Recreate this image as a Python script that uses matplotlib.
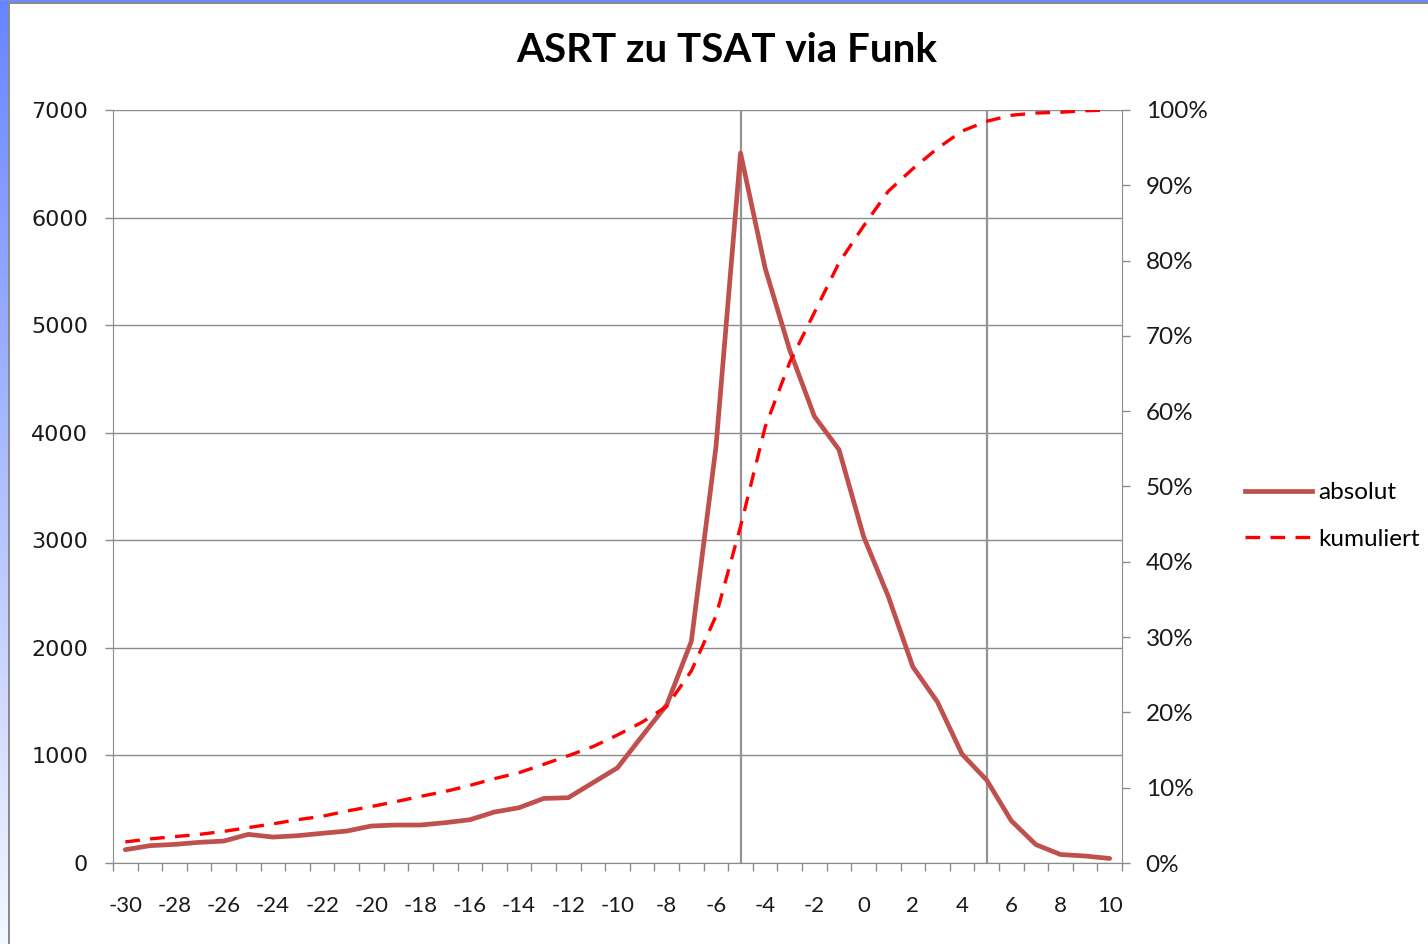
import numpy as np
import matplotlib
matplotlib.use("Agg")
import matplotlib.pyplot as plt
from matplotlib.lines import Line2D
from matplotlib.patches import Rectangle
from matplotlib.ticker import FixedLocator, FuncFormatter, NullFormatter

# ---- data ----
categories = list(range(-30, 11))
absolut = [124, 161, 173, 192, 204, 266, 241, 254, 276, 297,
           344, 353, 353, 375, 402, 474, 514, 600, 607, 746,
           885, 1180, 1470, 2060, 3866, 6600, 5529, 4767, 4152, 3843,
           3035, 2480, 1824, 1497, 1012, 771, 393, 171, 79, 65, 42]
kumuliert = [0.028, 0.032, 0.035, 0.038, 0.042, 0.047, 0.052, 0.0575, 0.062, 0.069,
             0.075, 0.0815, 0.0885, 0.095, 0.103, 0.112, 0.120, 0.131, 0.1425, 0.1545,
             0.170, 0.187, 0.208, 0.255, 0.328, 0.447, 0.579, 0.665, 0.731, 0.797,
             0.846, 0.892, 0.922, 0.949, 0.972, 0.985, 0.993, 0.996, 0.997, 0.999, 1.0]
x_labels = list(range(-30, 11, 2))
marker_lines = [-5, 5]
title = "ASRT zu TSAT via Funk"
legend_labels = ["absolut", "kumuliert"]

W, H = 1428, 944
fig = plt.figure(figsize=(W / 100, H / 100), dpi=100)
fig.patch.set_facecolor("white")

# decorative frame: blue gradient strip on left and top, grey border
grad = np.linspace(0, 1, 256).reshape(-1, 1)
top_c = np.array([0.40, 0.52, 1.0])
bot_c = np.array([0.96, 0.97, 1.0])
img = top_c[None, None, :] * (1 - grad[:, :, None]) + bot_c[None, None, :] * grad[:, :, None]
strip = fig.add_axes([0, 0, 8 / W, 1])
strip.imshow(img, aspect="auto", extent=[0, 1, 0, 1])
strip.set_axis_off()
fig.patches.append(Rectangle((0, 1 - 2 / H), 1, 2 / H, transform=fig.transFigure,
                             facecolor="#6B8BFF", edgecolor="none", zorder=0))
fig.patches.append(Rectangle((8 / W, 0), 2 / W, 1 - 2 / H, transform=fig.transFigure,
                             facecolor="#8A8A8A", edgecolor="none", zorder=1))
fig.patches.append(Rectangle((8 / W, 1 - 4 / H), 1, 2 / H, transform=fig.transFigure,
                             facecolor="#8A8A8A", edgecolor="none", zorder=1))

grid_c = "#8C8C8C"
left, right_px, top_px, bottom_px = 113, 1122, 110, 863
ax = fig.add_axes([left / W, 1 - bottom_px / H, (right_px - left) / W, (bottom_px - top_px) / H])
ax.set_xlim(categories[0] - 0.5, categories[-1] + 0.5)
ax.set_ylim(0, 7000)

# gridlines
ax.set_yticks(np.arange(0, 7001, 1000))
ax.yaxis.grid(True, color=grid_c, linewidth=1.0)
ax.set_axisbelow(True)
for xv in marker_lines:
    ax.axvline(xv, color="#949494", linewidth=1.6, zorder=1)

ax.plot(categories, absolut, color="#C0504D", linewidth=3.4, solid_joinstyle="round",
        solid_capstyle="round", zorder=3)

ax2 = ax.twinx()
ax2.set_ylim(0, 1)
ax2.plot(categories, kumuliert, color="#FF0000", linewidth=2.4, linestyle=(0, (4.4, 3.1)),
         zorder=4)
ax2.set_yticks(np.arange(0, 1.01, 0.1))
ax2.yaxis.set_major_formatter(FuncFormatter(lambda v, p: f"{v * 100:.0f}%"))

for a in (ax, ax2):
    for s in a.spines.values():
        s.set_visible(False)
ax.spines["left"].set_visible(True)
ax.spines["left"].set_color(grid_c)
ax.spines["bottom"].set_visible(True)
ax.spines["bottom"].set_color(grid_c)
ax2.spines["right"].set_visible(True)
ax2.spines["right"].set_color(grid_c)

# x axis: ticks at category boundaries, labels every 2 categories
ax.xaxis.set_major_locator(FixedLocator(np.arange(categories[0] - 0.5, categories[-1] + 0.6, 1)))
ax.xaxis.set_major_formatter(NullFormatter())
ax.xaxis.set_minor_locator(FixedLocator(x_labels))
ax.xaxis.set_minor_formatter(FuncFormatter(lambda v, p: f"{int(round(v))}"))
ax.tick_params(axis="x", which="major", direction="out", length=6, width=1, color=grid_c)
ax.tick_params(axis="x", which="minor", length=0, pad=24, labelsize=16, labelcolor="#1a1a1a")
for t in ax.get_xticklabels(minor=True):
    t.set_family("Lato")

ax.tick_params(axis="y", direction="out", length=6, width=1, color=grid_c, pad=12,
               labelsize=16, labelcolor="#1a1a1a")
for t in ax.get_yticklabels():
    t.set_family("DejaVu Sans")
ax2.tick_params(axis="y", direction="out", length=6, width=1, color=grid_c, pad=11,
                labelsize=17.5, labelcolor="#1a1a1a")
for t in ax2.get_yticklabels():
    t.set_family("Lato")

fig.text(727 / W, 1 - 50 / H, title, ha="center", va="center", fontsize=29,
         fontweight="bold", family="Lato", color="black")

handles = [Line2D([], [], color="#C0504D", linewidth=3.4),
           Line2D([], [], color="#FF0000", linewidth=2.4, linestyle=(0, (4.4, 3.1)))]
fig.legend(handles, legend_labels, loc="center left",
           bbox_to_anchor=(1245 / W, 1 - 516 / H), frameon=False, borderpad=0,
           borderaxespad=0, handlelength=2.75, handletextpad=0.28, labelspacing=1.05,
           prop={"family": "Lato", "size": 17.5})

fig.savefig("out.png", dpi=100)
